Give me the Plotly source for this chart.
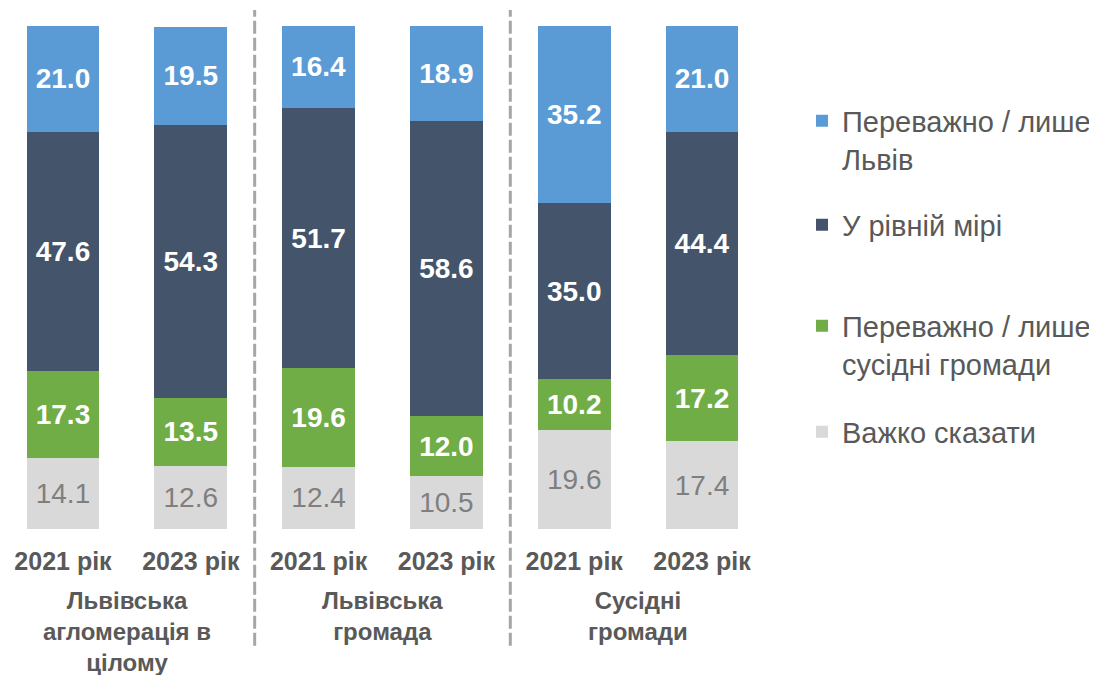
import plotly.graph_objects as go

# ---- data ----
bar_labels = ["2021 рік", "2023 рік", "2021 рік", "2023 рік", "2021 рік", "2023 рік"]
group_labels = ["Львівська<br>агломерація в<br>цілому", "Львівська<br>громада", "Сусідні<br>громади"]
series_names = ["Переважно / лише<br>Львів", "У рівній мірі",
                "Переважно / лише<br>сусідні громади", "Важко сказати"]
lviv = [21.0, 19.5, 16.4, 18.9, 35.2, 21.0]
equal = [47.6, 54.3, 51.7, 58.6, 35.0, 44.4]
neighbors = [17.3, 13.5, 19.6, 12.0, 10.2, 17.2]
hard = [14.1, 12.6, 12.4, 10.5, 19.6, 17.4]

colors = ["#5B9BD5", "#44546A", "#70AD47", "#D9D9D9"]
FONT = "Liberation Sans, Arial, sans-serif"
AXIS_GREY = "#595959"

x = list(range(len(bar_labels)))

fig = go.Figure()

# stacked bottom to top
stack = [
    (hard, series_names[3], colors[3], "#7F7F7F", "normal", "legend4"),
    (neighbors, series_names[2], colors[2], "white", "bold", "legend3"),
    (equal, series_names[1], colors[1], "white", "bold", "legend2"),
    (lviv, series_names[0], colors[0], "white", "bold", "legend"),
]
for vals, name, col, tcol, weight, leg in stack:
    fig.add_trace(go.Bar(
        x=x, y=vals, name=name,
        marker=dict(color=col, line=dict(width=0)),
        text=[f"{v:.1f}" for v in vals],
        textposition="inside", insidetextanchor="middle",
        textfont=dict(family=FONT, size=28, color=tcol, weight=weight),
        constraintext="none",
        legend=leg, hoverinfo="skip",
    ))

# group labels
for i, g in enumerate(group_labels):
    fig.add_annotation(
        x=2 * i + 0.5, xref="x", y=-0.112, yref="paper", yanchor="top",
        text=g, showarrow=False, align="center",
        font=dict(family=FONT, size=24, color=AXIS_GREY, weight="bold"),
    )

# dashed separators
for sx in (1.5, 3.5):
    fig.add_shape(type="line", xref="x", yref="paper", x0=sx, x1=sx,
                  y0=-0.232, y1=1.032,
                  line=dict(color="#A6A6A6", width=3, dash="13px,4px"))

leg_common = dict(font=dict(family=FONT, size=29, color=AXIS_GREY),
                  bgcolor="rgba(0,0,0,0)", borderwidth=0,
                  xanchor="left", yanchor="middle", valign="top",
                  traceorder="normal")
lx = 0.7238
fig.update_layout(
    barmode="stack",
    bargap=0.43,
    width=1097, height=675,
    margin=dict(l=0, r=0, t=18, b=154),
    plot_bgcolor="white", paper_bgcolor="white",
    font=dict(family=FONT, color=AXIS_GREY),
    xaxis=dict(domain=[0, 0.6909], range=[-0.43, 5.5], automargin=False,
               tickvals=x, ticktext=bar_labels,
               tickfont=dict(family=FONT, size=25, color=AXIS_GREY, weight="bold"),
               ticks="outside", ticklen=10, tickcolor="rgba(0,0,0,0)",
               showline=False, showgrid=False, zeroline=False, fixedrange=True),
    yaxis=dict(range=[0, 100], visible=False, fixedrange=True, automargin=False),
    showlegend=True,
    legend=dict(x=lx, y=0.7734, **leg_common),
    legend2=dict(x=lx, y=0.6044, **leg_common),
    legend3=dict(x=lx, y=0.3658, **leg_common),
    legend4=dict(x=lx, y=0.1928, **leg_common),
)

fig.write_html("out.html")
